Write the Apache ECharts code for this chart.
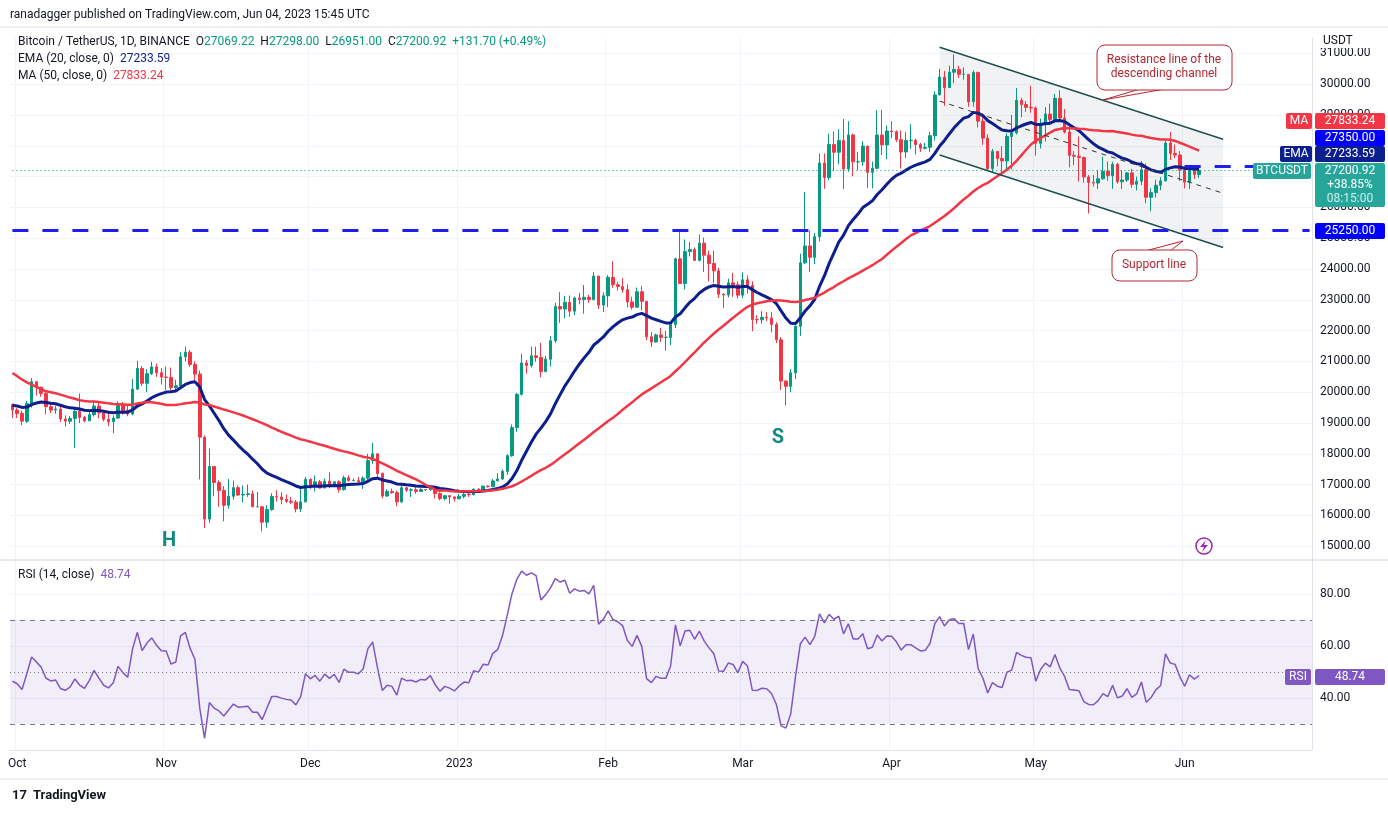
<!DOCTYPE html>
<html><head><meta charset="utf-8">
<script src="https://cdn.jsdelivr.net/npm/echarts@6/dist/echarts.min.js"></script>
<style>html,body{margin:0;padding:0;background:#fff}#c{width:1388px;height:813px}</style>
</head><body><div id="c"></div>
<script>
// Warm-up closes Aug 1 – Sep 29 2022 (for EMA/MA/RSI only)
const warmCloses=[23300,22980,22820,22620,23310,22960,23180,23810,23160,23960,23940,24400,24440,24300,24100,23850,23340,23210,20830,21140,21520,21400,21530,21380,21600,20260,20040,19550,20290,20050,20050,
20130,19950,19830,19990,19800,18790,19290,19320,21360,21650,21830,22400,20170,20230,19700,19800,20110,19420,19540,18880,18490,19410,19290,18930,18800,19230,19080,19410,19590];
// Displayed daily closes Sep 30 2022 – Jun 4 2023
const closes=[19420,
19310,19060,19630,20340,20160,19960,19530,19420,19450,19130,19060,19150,19380,19180,19070,19270,19550,19330,19120,19040,19160,19570,19410,19290,20100,20770,20290,20600,20820,20630,20490,
20480,20150,20210,21150,21300,20900,20590,18540,15880,17590,17070,16810,16330,16620,16900,16660,16680,16700,16280,16280,15780,16190,16610,16600,16520,16460,16430,16210,16440,17170,
16980,17090,16890,17110,16970,17090,16840,17220,17130,17130,17090,17210,17780,18000,17360,16630,16780,16740,16440,16900,16820,16830,16780,16840,16830,16920,16710,16550,16640,16600,16540,
16620,16680,16670,16850,16830,16950,16940,17120,17180,17430,17940,18850,19930,20950,20870,21180,21130,20670,21070,21670,22780,22700,22920,22630,23060,23010,23080,23010,23770,22830,23130,
23730,23490,23430,23330,22930,22760,23260,22950,21800,21630,21860,21780,21780,22200,24330,23530,24570,24630,24280,24840,24450,24180,23940,23180,23160,23550,23490,23150,
23650,23470,22360,22350,22430,22410,22200,21700,20360,20190,20630,22140,24200,24750,24380,25050,27440,26970,28040,27790,28170,27250,28350,27480,27480,27990,27140,27270,28350,28030,28480,
28460,28200,27800,28170,28180,28040,27920,27950,28330,29650,30230,29890,30390,30480,30320,30320,29430,30380,28800,28250,27260,27820,27590,27510,28300,28420,29480,29340,29250,29230,
28080,28680,29030,28850,29540,28900,28450,27690,27660,27620,26990,26810,26790,26930,27170,27030,27400,26830,26890,27120,26750,26850,27220,26330,26480,26720,26860,28090,27750,27700,27220,
26820,27250,27070,27200.92];
const highs=[19640,
19480,19400,19720,20460,20360,20180,20050,19600,19560,19520,19250,19220,19500,19960,19230,19400,19700,19700,19360,19340,19250,19700,19680,19600,20420,21020,20850,20750,20990,20930,20780,
20830,20800,20400,21300,21480,21370,21000,20700,18600,18170,17600,17140,16950,17180,17130,16970,16970,17000,16810,16760,16290,16330,16720,16820,16750,16680,16600,16500,16900,17250,
17200,17300,17150,17200,17400,17100,17140,17290,17300,17200,17250,17270,18000,18350,18000,17390,16850,16870,16800,16970,16890,16880,16920,16880,16840,16930,16940,16750,16660,16620,16610,
16700,16780,16790,16880,16880,16970,16970,17180,17380,17490,17990,18950,19980,21250,21040,21480,21480,21600,21180,21820,22900,23250,23130,23140,23100,23230,23480,23160,23900,23780,23240,
23800,24250,23580,23700,23500,23100,23400,23450,22950,21950,21900,22090,21990,22300,24370,25250,24960,24870,24700,25120,25020,24600,24600,24040,23220,23690,23880,23600,
23890,23790,23600,22500,22630,22600,22600,22270,21790,20390,20750,22170,24500,26500,25250,25170,27750,27750,28390,28470,28540,28870,28800,28400,27800,28150,28000,27490,29160,29170,28660,
28800,28500,28500,28440,28700,28230,28090,28100,28450,29770,30500,30430,30600,30970,30600,30550,30320,30450,30410,29050,28370,27900,27820,27990,28400,29000,29880,29550,29450,29950,
29280,28880,29260,29370,29680,29800,29190,28650,27830,28300,27650,27050,27050,27200,27650,27490,27480,27450,27200,27150,27250,27000,27500,27420,26620,26900,26980,28190,28450,28040,27830,
27350,27300,27320,27298];
const lows=[19160,
19160,18930,19000,19500,19890,19850,19280,19320,19300,19030,18890,18970,18190,19000,19020,19060,19210,19150,19050,18900,18670,19130,19270,19220,19250,20070,20200,20000,20560,20500,20250,
20070,20050,20020,20200,21000,20820,20380,17170,15590,15750,16620,16280,15810,16220,16510,16640,16420,16600,16330,16280,15480,15600,16150,16450,16360,16400,16370,16100,16110,16420,
16860,16780,16870,16880,16880,16950,16740,16800,17100,17120,17050,16860,17070,17670,17200,16560,16600,16700,16300,16400,16760,16600,16700,16800,16790,16800,16550,16490,16490,16380,16450,
16540,16550,16600,16650,16730,16770,16900,16910,17110,17160,17320,17900,18710,19890,20600,20800,20990,20480,20650,20830,21600,22250,22400,22450,22500,22850,22550,22900,22980,22700,22600,
22760,23390,23300,23230,22750,22680,22760,22650,21690,21470,21610,21630,21350,21530,22080,23510,23330,24410,24280,24250,23900,23600,23550,23060,22730,23080,23100,23040,
23050,23200,21980,22220,22220,22310,21940,21600,20070,19570,20000,20430,21830,24160,23900,24160,24890,26600,26880,27180,27400,26600,27160,27010,27210,27350,26630,26620,27240,27700,27560,
28250,28120,27260,27600,27900,27720,27800,27880,27800,28170,29700,29300,29880,30030,30200,30150,29270,29270,28600,28030,27200,27120,27330,27030,27210,27240,28370,28930,29100,29070,
27680,27910,28140,28670,28810,28830,28400,27300,27370,26840,26800,25800,26680,26600,26900,26860,26600,26770,26600,26830,26640,26550,26720,26130,25870,26320,26560,26850,27540,27600,26860,
26620,26600,26920,26951];
const firstOpen=19590;
const monthLabels={"10-01":"Oct","11-01":"Nov","12-01":"Dec","01-01":"2023","02-01":"Feb","03-01":"Mar","04-01":"Apr","05-01":"May","06-01":"Jun"};
const channelUpper=[["2023-04-11",31200],["2023-06-09",28210]];
const channelLower=[["2023-04-11",27700],["2023-06-09",24700]];
const channelMid=[["2023-04-11",29450],["2023-06-09",26460]];
const supportLevel=25250, levelB=27350;

const dates=[];const t0=Date.UTC(2022,8,30);
for(let i=0;i<271;i++){const d=new Date(t0+i*86400000);dates.push(d.toISOString().slice(0,10));}
const candles=closes.map((c,i)=>{const o=i===0?firstOpen:closes[i-1];return [o,c,lows[i],highs[i]];});
const all=warmCloses.concat(closes);const W=warmCloses.length;
const ema=[];let e=all[0];all.forEach((c,i)=>{e=i===0?c:(c*2/21+e*19/21);ema.push(e);});
const ma=all.map((c,i)=>{if(i<49)return null;let s=0;for(let k=i-49;k<=i;k++)s+=all[k];return s/50;});
const rsi=[null];let ag=0,al=0;for(let i=1;i<all.length;i++){const ch=all[i]-all[i-1];const g=Math.max(ch,0),l=Math.max(-ch,0);
 if(i<=14){ag+=g/14;al+=l/14;rsi[i]=null;if(i===14)rsi[i]=100-100/(1+ag/al);}else{ag=(ag*13+g)/14;al=(al*13+l)/14;rsi[i]=100-100/(1+ag/al);}}
const emaD=ema.slice(W).map(v=>+v.toFixed(2)),maD=ma.slice(W).map(v=>+v.toFixed(2)),rsiD=rsi.slice(W).map(v=>+v.toFixed(2));

const txt='#131722',grid='#f0f3fa',F='12px Roboto, sans-serif';
const chart=echarts.init(document.getElementById('c'));
const tag=(y,bg,text,x=1315,w=70,h=16)=>({type:'group',z:100,children:[{type:'rect',z:100,shape:{x:x,y:y-h/2,width:w,height:h,r:2},style:{fill:bg}},{type:'text',z:101,style:{x:x+w/2,y:y,text:text,fill:'#fff',font:F,align:'center',verticalAlign:'middle'}}]});
const rt=(x,y,text,rich)=>({type:'text',style:{x:x,y:y,verticalAlign:'middle',text:text,rich:rich}});
const R=(c)=>({fill:c,font:F});
const isMonth=(i,v)=>!!monthLabels[v.slice(5)];
const gfx=[
  {type:'text',style:{x:10,y:15,text:'ranadagger published on TradingView.com, Jun 04, 2023 15:45 UTC',fill:txt,font:F,verticalAlign:'middle'}},
  {type:'line',shape:{x1:0,y1:27,x2:1388,y2:27},style:{stroke:'#e0e3eb'}},
  rt(18,42,'{a|Bitcoin / TetherUS, 1D, BINANCE  O}{g|27069.22}{a|  H}{g|27298.00}{a|  L}{g|26951.00}{a|  C}{g|27200.92}{g|  +131.70 (+0.49%)}',{a:R(txt),g:R('#089981')}),
  rt(18,59,'{a|EMA (20, close, 0)  }{b|27233.59}',{a:R(txt),b:R('#0d1f8c')}),
  rt(18,76,'{a|MA (50, close, 0)  }{b|27833.24}',{a:R(txt),b:R('#f23645')}),
  {type:'rect',shape:{x:1313,y:30,width:75,height:18},style:{fill:'#fff'}},
  {type:'text',style:{x:1323,y:41,text:'USDT',fill:txt,font:F,verticalAlign:'middle'}},
  tag(121,'#f23645','MA',1286,26),tag(121,'#f23645','27833.24'),
  tag(138,'#0000ff','27350.00'),
  tag(154,'#0d1f8c','EMA',1280,32),tag(154,'#0d1f8c','27233.59'),
  tag(171,'#26a69a','BTCUSDT',1253,58),
  {type:'rect',shape:{x:1315,y:163,width:70,height:44,r:2},style:{fill:'#26a69a'}},
  {type:'text',style:{x:1350,y:171,text:'27200.92',fill:'#fff',font:F,align:'center',verticalAlign:'middle'}},
  {type:'text',style:{x:1350,y:185,text:'+38.85%',fill:'#fff',font:F,align:'center',verticalAlign:'middle'}},
  {type:'text',style:{x:1350,y:199,text:'08:15:00',fill:'#cdeee9',font:F,align:'center',verticalAlign:'middle'}},
  tag(231,'#0000ff','25250.00'),
  tag(677,'#7e57c2','RSI',1285,26),tag(677,'#7e57c2','48.74'),
  {type:'line',shape:{x1:0,y1:560,x2:1388,y2:560},style:{stroke:'#d1d4dc',lineWidth:1}},
  rt(18,575,'{a|RSI (14, close)  }{b|48.74}',{a:R(txt),b:R('#7e57c2')}),
  {type:'polyline',shape:{points:[[1140,89],[1103,100],[1165,89]]},style:{stroke:'#b22833',fill:'#fff',lineWidth:1}},
  {type:'rect',shape:{x:1097,y:45,width:135,height:45,r:8},style:{fill:'#fff',stroke:'#b22833',lineWidth:1}},
  {type:'text',style:{x:1164,y:67,text:'Resistance line of the\ndescending channel',fill:'#b22833',font:F,align:'center',verticalAlign:'middle',lineHeight:14}},
  {type:'polyline',shape:{points:[[1145,251],[1183,241],[1170,251]]},style:{stroke:'#b22833',fill:'#fff',lineWidth:1}},
  {type:'rect',shape:{x:1112,y:250,width:85,height:31,r:8},style:{fill:'#fff',stroke:'#b22833',lineWidth:1}},
  {type:'text',style:{x:1154,y:265,text:'Support line',fill:'#b22833',font:F,align:'center',verticalAlign:'middle'}},
  {type:'text',style:{x:169,y:541,text:'H',fill:'#138a84',font:'bold 20px Roboto, sans-serif',align:'center',verticalAlign:'middle'}},
  {type:'text',style:{x:778,y:438,text:'S',fill:'#138a84',font:'bold 20px Roboto, sans-serif',align:'center',verticalAlign:'middle'}},
  {type:'circle',shape:{cx:1204,cy:546,r:8},style:{fill:'#fff',stroke:'#9c27b0',lineWidth:1.5}},
  {type:'polygon',shape:{points:[[1206,540],[1200,547],[1204,547],[1202,552],[1208,545],[1204,545]]},style:{fill:'#9c27b0'}},
  {type:'line',shape:{x1:0,y1:779,x2:1388,y2:779},style:{stroke:'#e0e3eb'}},
  {type:'text',style:{x:33,y:796,text:'TradingView',fill:txt,font:'bold 13px Roboto, sans-serif',verticalAlign:'middle'}},
  {type:'text',style:{x:12,y:796,text:'17',fill:txt,font:'bold 13px Roboto, sans-serif',verticalAlign:'middle'}}
];
gfx.forEach(g=>{if(g.z==null)g.z=100;});
chart.setOption({
 animation:false,
 grid:[{left:10,right:76,top:38,height:523.6},{left:10,right:76,top:560.2,bottom:63}],
 xAxis:[0,1].map(g=>({type:'category',gridIndex:g,data:dates,boundaryGap:true,
   axisLine:{show:g===1,lineStyle:{color:'#e0e3eb'}},axisTick:{show:false},
   axisLabel:{show:g===1,interval:isMonth,formatter:v=>monthLabels[v.slice(5)]||'',color:txt,fontSize:12,fontFamily:'Roboto',margin:8},
   splitLine:{show:true,interval:isMonth,lineStyle:{color:grid}}})),
 yAxis:[{type:'value',gridIndex:0,position:'right',min:14500,max:31500,interval:500,
   axisLine:{show:true,lineStyle:{color:'#e0e3eb'}},axisTick:{show:false},
   axisLabel:{color:txt,fontSize:12,fontFamily:'Roboto',margin:8,formatter:v=>v%1000===0&&v>=15000&&v<=31000?v.toFixed(2):''},
   splitLine:{lineStyle:{color:['rgba(0,0,0,0)',grid]}}},
  {type:'value',gridIndex:1,position:'right',min:20,max:93,interval:10,
   axisLine:{show:true,lineStyle:{color:'#e0e3eb'}},axisTick:{show:false},
   axisLabel:{color:txt,fontSize:12,fontFamily:'Roboto',margin:8,formatter:v=>(v===40||v===60||v===80)?v.toFixed(2):''},
   splitLine:{lineStyle:{color:['rgba(0,0,0,0)','rgba(0,0,0,0)',grid,'rgba(0,0,0,0)',grid,'rgba(0,0,0,0)',grid,'rgba(0,0,0,0)']}}}],
 series:[
  {type:'custom',xAxisIndex:0,yAxisIndex:0,silent:true,z:1,data:[0],renderItem:(p,api)=>{
     const pts=[api.coord(channelUpper[0]),api.coord(channelUpper[1]),api.coord(channelLower[1]),api.coord(channelLower[0])];
     return {type:'polygon',shape:{points:pts},style:{fill:'rgba(120,123,134,0.1)'}};}},
  {type:'candlestick',name:'BTC',xAxisIndex:0,yAxisIndex:0,data:candles,barWidth:3,z:3,
   itemStyle:{color:'#089981',color0:'#f23645',borderColor:'#089981',borderColor0:'#f23645',borderWidth:1},
   markLine:{silent:true,symbol:'none',label:{show:false},lineStyle:{color:'#1f4f4f',width:1.5,type:'solid'},data:[
     [{coord:channelUpper[0]},{coord:channelUpper[1]}],
     [{coord:channelLower[0]},{coord:channelLower[1]}],
     [{coord:channelMid[0],lineStyle:{color:'#333',type:[5,5],width:1}},{coord:channelMid[1]}],
     [{coord:[0,supportLevel],lineStyle:{color:'#1e1ef0',type:[16,14],width:3}},{coord:[270,supportLevel]}],
     [{coord:['2023-06-01',levelB],lineStyle:{color:'#1e1ef0',type:[16,14],width:3}},{coord:[270,levelB]}],
     [{coord:[0,27200.92],lineStyle:{color:'#089981',type:[1,3],width:1}},{coord:[270,27200.92]}]
   ]}},
  {type:'line',name:'EMA',data:emaD,showSymbol:false,lineStyle:{color:'#0d1f8c',width:3},z:4},
  {type:'line',name:'MA',data:maD,showSymbol:false,lineStyle:{color:'#f23645',width:2.5},z:4},
  {type:'line',name:'RSI',xAxisIndex:1,yAxisIndex:1,data:rsiD,showSymbol:false,lineStyle:{color:'#7e57c2',width:1.5},
   markArea:{silent:true,itemStyle:{color:'rgba(126,87,194,0.1)'},data:[[{yAxis:30},{yAxis:70}]]},
   markLine:{silent:true,symbol:'none',label:{show:false},lineStyle:{color:'#787b86',type:[5,5],width:1},data:[{yAxis:70},{yAxis:30},{yAxis:50,lineStyle:{type:[1,3]}}]}}
 ],
 graphic:gfx
});
</script></body></html>
